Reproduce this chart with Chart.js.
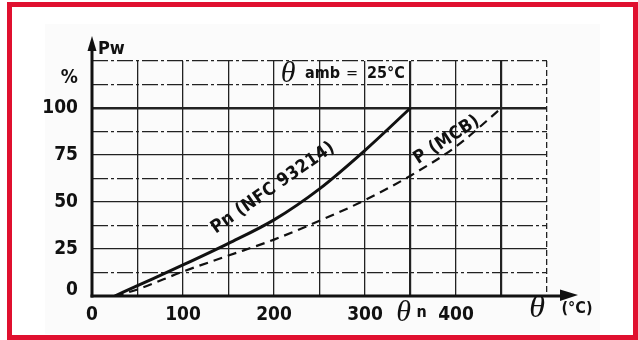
<!DOCTYPE html>
<html>
<head>
<meta charset="utf-8">
<script src="https://cdn.jsdelivr.net/npm/chart.js@4"></script>
<style>
html, body { margin: 0; padding: 0; background: #fff; }
#wrap { position: relative; width: 638px; height: 340px; }
#frame { position: absolute; left: 7px; top: 2px; width: 631px; height: 338px; box-sizing: border-box; border: 5px solid #e0102f; pointer-events: none; }
</style>
</head>
<body>
<div id="wrap">
  <canvas id="chart" width="638" height="340"></canvas>
  <div id="frame"></div>
</div>
<script>
// temperatures (°C) and power (% of Pw)
const tempsNfc = [25, 50, 100, 150, 200, 250, 300, 350];
const pnNfc = [0, 5.5, 16.5, 28, 40.5, 57, 77.5, 100];
const tempsMcb = [25, 50, 100, 150, 200, 250, 300, 350, 400, 450];
const pMcb = [0, 3.5, 13, 21.5, 30, 40, 51, 64, 79.5, 100];
const xLabels = [0, 100, 200, 300, 400];
const yLabels = [0, 25, 50, 75, 100];
const thetaN = 350;

const COND = "'DejaVu Sans Condensed', 'Liberation Sans Narrow', sans-serif";
const SERIF = "'Liberation Serif', 'DejaVu Serif', serif";
const INK = '#111';

function pts(xs, ys) {
    return xs.map((t, i) => ({ x: t, y: ys[i] }));
}

const overlay = {
    id: 'overlay',
    beforeDraw(chart) {
        const ctx = chart.ctx;
        ctx.save();
        ctx.fillStyle = '#fbfbfb';
        ctx.fillRect(45, 24, 555, 310);
        ctx.restore();
    },
    afterDraw(chart) {
        const { ctx, scales: { x, y } } = chart;
        const x0 = x.getPixelForValue(0);
        const y0 = y.getPixelForValue(0);
        ctx.save();
        ctx.strokeStyle = INK;
        ctx.fillStyle = INK;
        ctx.lineWidth = 3;
        // y axis with arrow
        ctx.beginPath(); ctx.moveTo(x0, y0 + 1.5); ctx.lineTo(x0, 48); ctx.stroke();
        ctx.beginPath(); ctx.moveTo(x0, 36); ctx.lineTo(x0 - 4.5, 51); ctx.lineTo(x0 + 4.5, 51); ctx.closePath(); ctx.fill();
        // x axis with arrow
        ctx.beginPath(); ctx.moveTo(x0 - 1.5, y0); ctx.lineTo(564, y0); ctx.stroke();
        ctx.beginPath(); ctx.moveTo(578, y0 - 1); ctx.lineTo(560, y0 - 6.5); ctx.lineTo(560, y0 + 5); ctx.closePath(); ctx.fill();

        ctx.textBaseline = 'middle';
        ctx.textAlign = 'left';
        ctx.font = 'bold 18px ' + COND;
        ctx.fillText('Pw', 98, 49);

        // θ amb = 25°C
        ctx.font = 'italic 30px ' + SERIF;
        ctx.textAlign = 'center';
        ctx.fillText('θ', 288, 74);
        ctx.textAlign = 'left';
        ctx.font = 'bold 16px ' + COND;
        ctx.fillText('amb', 305, 74);
        ctx.font = '16px ' + COND;
        ctx.fillText('=', 346, 74);
        ctx.font = 'bold 16px ' + COND;
        ctx.fillText('25°C', 367, 74);

        // θn marker on x axis
        const xn = x.getPixelForValue(thetaN);
        ctx.font = 'italic 30px ' + SERIF;
        ctx.textAlign = 'center';
        ctx.fillText('θ', xn - 7, 313);
        ctx.font = 'bold 16px ' + COND;
        ctx.textAlign = 'left';
        ctx.fillText('n', xn + 6, 313);

        // axis title θ (°C)
        ctx.font = 'italic 32px ' + SERIF;
        ctx.textAlign = 'center';
        ctx.fillText('θ', 537, 309);
        ctx.font = 'bold 16px ' + COND;
        ctx.fillText('(°C)', 577, 309);

        // curve labels
        const curveLabel = (txt, tx, ty, ang) => {
            ctx.save();
            ctx.translate(x.getPixelForValue(tx), y.getPixelForValue(ty));
            ctx.rotate(-ang * Math.PI / 180);
            ctx.font = 'bold 18px ' + COND;
            ctx.letterSpacing = '0.3px';
            ctx.textAlign = 'center';
            ctx.textBaseline = 'middle';
            ctx.fillText(txt, 0, 0);
            ctx.restore();
        };
        curveLabel('Pn (NFC 93214)', 199, 57.5, 35);
        curveLabel('P (MCB)', 390, 83, 33);
        ctx.restore();
    }
};

new Chart(document.getElementById('chart'), {
    type: 'line',
    data: {
        datasets: [
            {
                label: 'Pn (NFC 93214)',
                data: pts(tempsNfc, pnNfc),
                borderColor: INK,
                borderWidth: 3,
                pointRadius: 0,
                cubicInterpolationMode: 'monotone'
            },
            {
                label: 'P (MCB)',
                data: pts(tempsMcb, pMcb),
                borderColor: INK,
                borderWidth: 2.2,
                borderDash: [9, 6],
                pointRadius: 0,
                cubicInterpolationMode: 'monotone'
            }
        ]
    },
    options: {
        responsive: false,
        animation: false,
        devicePixelRatio: 1,
        layout: { padding: { left: 0, top: 61, right: 91, bottom: 0 } },
        plugins: { legend: { display: false }, tooltip: { enabled: false } },
        scales: {
            x: {
                type: 'linear',
                min: 0,
                max: 500,
                afterFit: s => { s.height = 44; },
                ticks: {
                    stepSize: 50,
                    autoSkip: false,
                    maxRotation: 0,
                    padding: 8,
                    color: INK,
                    font: { family: COND, size: 19, weight: 'bold' },
                    callback: v => xLabels.includes(v) ? String(v) : ''
                },
                grid: {
                    drawTicks: false,
                    color: '#222',
                    lineWidth: c => (c.tick && (c.tick.value === 350 || c.tick.value === 450)) ? 2.2 : 1.3
                },
                border: {
                    display: false,
                    dash: c => (c.tick && c.tick.value === 500) ? [6, 3] : []
                }
            },
            y: {
                min: 0,
                max: 125,
                afterFit: s => { s.width = 92; },
                ticks: {
                    stepSize: 12.5,
                    autoSkip: false,
                    padding: 14,
                    color: INK,
                    font: { family: COND, size: 19, weight: 'bold', lineHeight: 0.65 },
                    callback: v => {
                        if (v === 0) return ['0', ''];
                        if (v === 112.5) return ['%', ''];
                        return yLabels.includes(v) ? String(v) : '';
                    }
                },
                grid: {
                    drawTicks: false,
                    color: '#222',
                    lineWidth: c => (c.tick && c.tick.value === 100) ? 2.4 : 1.2
                },
                border: {
                    display: false,
                    dash: c => (c.tick && (c.tick.value % 25 !== 0 || c.tick.value === 125)) ? [16, 3, 3, 3] : []
                }
            }
        }
    },
    plugins: [overlay]
});
</script>
</body>
</html>
